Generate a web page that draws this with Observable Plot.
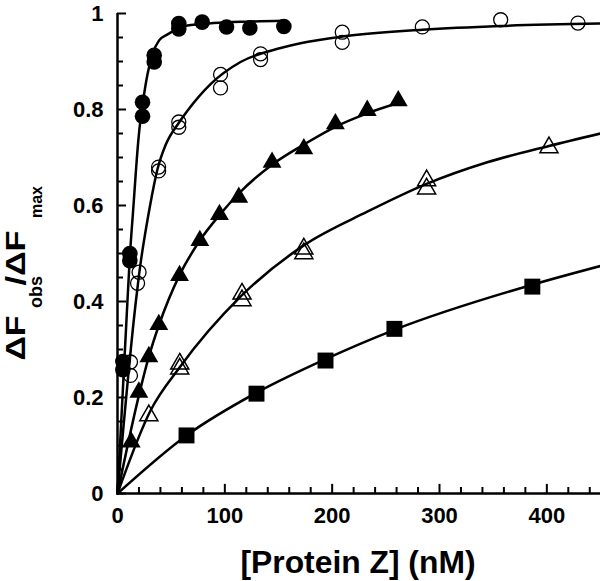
<!DOCTYPE html>
<html><head><meta charset="utf-8">
<script src="https://cdn.jsdelivr.net/npm/d3@7"></script>
<script src="https://cdn.jsdelivr.net/npm/@observablehq/plot@0.6"></script>
<style>body{margin:0;background:#fff;}</style>
</head><body><div id="chart"></div>
<script>
// Axis ticks
const xMajor = [0, 100, 200, 300, 400];
const xTickLabels = ["0", "100", "200", "300", "400"];
const xMinor = [20, 40, 60, 80, 120, 140, 160, 180, 220, 240, 260, 280, 320, 340, 360, 380, 420, 440];
const yMajor = [0, 0.2, 0.4, 0.6, 0.8, 1];
const yTickLabels = ["0", "0.2", "0.4", "0.6", "0.8", "1"];
const yMinor = [0.05, 0.1, 0.15, 0.25, 0.3, 0.35, 0.45, 0.5, 0.55, 0.65, 0.7, 0.75, 0.85, 0.9, 0.95];
const xTitle = "[Protein Z] (nM)";

// Series: filled circles
const filledCircleX = [5, 5, 11.5, 11.5, 23.3, 23.3, 34.2, 34.2, 57.1, 57.1, 78.9, 101.6, 123.3, 155];
const filledCircleY = [0.275, 0.258, 0.5, 0.485, 0.815, 0.786, 0.913, 0.899, 0.979, 0.968, 0.982, 0.972, 0.970, 0.973];
// Series: open circles
const openCircleX = [12.1, 12.1, 20.1, 18.7, 38.3, 38.3, 57.1, 57.1, 96, 96, 133.3, 133.3, 209.4, 209.4, 284, 357, 429];
const openCircleY = [0.274, 0.246, 0.461, 0.438, 0.68, 0.672, 0.774, 0.763, 0.873, 0.845, 0.916, 0.904, 0.961, 0.940, 0.972, 0.987, 0.980];
// Series: filled triangles
const filledTriX = [12.8, 19.9, 29.2, 38.5, 57.8, 76.7, 95, 113, 144, 173.6, 203, 232.7, 261.6];
const filledTriY = [0.107, 0.211, 0.285, 0.352, 0.454, 0.527, 0.581, 0.617, 0.69, 0.718, 0.77, 0.798, 0.818];
// Series: open triangles
const openTriX = [29.2, 58, 58, 116, 116, 173.6, 173.6, 288, 288, 402];
const openTriY = [0.1625, 0.27, 0.26, 0.416, 0.402, 0.51, 0.50, 0.652, 0.635, 0.721];
// Series: filled squares
const squareX = [64.3, 129.5, 193.8, 258, 386.5];
const squareY = [0.121, 0.208, 0.277, 0.343, 0.431];

// Fitted curves
const curveAX = [0, 9.3, 11.5, 14.9, 17.1, 19.3, 21.7, 23.9, 28, 32.6, 38.8, 46.3, 65, 89.7, 120, 155];
const curveAY = [0, 0.402, 0.493, 0.6, 0.67, 0.733, 0.784, 0.819, 0.874, 0.916, 0.944, 0.956, 0.975, 0.98, 0.983, 0.985];
const curveBX = [0, 17.1, 20.2, 30.1, 37.3, 45, 57, 65, 86.7, 114.6, 152, 170.5, 209.4, 284, 357, 450];
const curveBY = [0, 0.40, 0.458, 0.597, 0.676, 0.727, 0.772, 0.797, 0.853, 0.899, 0.928, 0.938, 0.952, 0.966, 0.974, 0.979];
const curveCX = [0, 20, 29.2, 38.5, 57.8, 76.7, 95, 113, 144, 173.6, 203, 232.7, 263.7];
const curveCY = [0, 0.205, 0.285, 0.35, 0.455, 0.527, 0.58, 0.625, 0.685, 0.727, 0.764, 0.792, 0.815];
const curveDX = [0, 30.8, 58, 114.6, 173.6, 232.7, 288, 344.5, 402, 450];
const curveDY = [0, 0.173, 0.263, 0.41, 0.517, 0.587, 0.645, 0.69, 0.724, 0.75];
const curveEX = [0, 64.3, 129.5, 193.8, 258, 386.5, 450];
const curveEY = [0, 0.121, 0.21, 0.28, 0.341, 0.435, 0.474];

const rows = (xs, ys) => xs.map((x, i) => ({x, y: ys[i]}));
const line = (xs, ys) => Plot.line(rows(xs, ys), {x: "x", y: "y", curve: "monotone-x", stroke: "black", strokeWidth: 2.5});
// inward tick marks; lengths in data units (≈9 px major, ≈6 px minor)
const xTicks = (vals, len) => Plot.ruleX(vals, {y1: 0, y2: len, stroke: "black", strokeWidth: 2});
const yTicks = (vals, len) => Plot.ruleY(vals, {x1: 0, x2: len, stroke: "black", strokeWidth: 2});

const chart = Plot.plot({
  width: 600, height: 581,
  marginLeft: 117, marginRight: 0, marginTop: 13, marginBottom: 88,
  style: {fontFamily: "'Liberation Sans', Arial, sans-serif", fontSize: "22px", color: "black", background: "white"},
  x: {domain: [0, 450]},
  y: {domain: [0, 1]},
  marks: [
    Plot.axisX({ticks: xMajor, tickSize: 0, tickPadding: 14, fontSize: 22, fontWeight: "bold", tickFormat: d => xTickLabels[xMajor.indexOf(d)], label: null}),
    Plot.axisY({ticks: yMajor, tickSize: 0, tickPadding: 14, fontSize: 22, fontWeight: "bold", tickFormat: d => yTickLabels[yMajor.indexOf(d)], label: null}),
    xTicks(xMajor, 0.019),
    xTicks(xMinor, 0.0125),
    yTicks(yMajor, 8.4),
    yTicks(yMinor, 5.6),
    Plot.ruleY([0], {x1: 0, x2: 450, stroke: "black", strokeWidth: 2.5}),
    Plot.ruleX([0], {y1: 0, y2: 1, stroke: "black", strokeWidth: 2.5}),
    line(curveAX, curveAY),
    line(curveBX, curveBY),
    line(curveCX, curveCY),
    line(curveDX, curveDY),
    line(curveEX, curveEY),
    Plot.dot(rows(openCircleX, openCircleY), {x: "x", y: "y", symbol: "circle", r: 7, fill: "none", stroke: "black", strokeWidth: 1.3}),
    Plot.dot(rows(openTriX, openTriY), {x: "x", y: "y", symbol: "triangle", r: 6.7, fill: "none", stroke: "black", strokeWidth: 1.5}),
    Plot.dot(rows(squareX, squareY), {x: "x", y: "y", symbol: "square", r: 9, fill: "black"}),
    Plot.dot(rows(filledTriX, filledTriY), {x: "x", y: "y", symbol: "triangle", r: 7, fill: "black"}),
    Plot.dot(rows(filledCircleX, filledCircleY), {x: "x", y: "y", symbol: "circle", r: 7.8, fill: "black"})
  ]
});
document.getElementById("chart").appendChild(chart);

const svg = d3.select(chart);
svg.append("text")
  .attr("x", 358).attr("y", 573)
  .attr("text-anchor", "middle")
  .attr("font-size", 31).attr("font-weight", "bold")
  .attr("fill", "black")
  .attr("textLength", 235).attr("lengthAdjust", "spacingAndGlyphs")
  .text(xTitle);

const yt = svg.append("text")
  .attr("transform", "translate(25,338) rotate(-90)")
  .attr("font-weight", "bold").attr("fill", "black");
const yParts = [
  {t: "\u0394F", x: 0, y: 0, size: 27, len: 45},
  {t: "obs", x: 46, y: 17, size: 18, len: 32},
  {t: "/\u0394F", x: 80, y: 0, size: 27, len: 55},
  {t: "max", x: 136, y: 17, size: 17, len: 32}
];
yParts.forEach(p => {
  yt.append("tspan").attr("x", p.x).attr("y", p.y)
    .attr("font-size", p.size)
    .attr("textLength", p.len).attr("lengthAdjust", "spacingAndGlyphs")
    .text(p.t);
});
</script>
</body></html>
